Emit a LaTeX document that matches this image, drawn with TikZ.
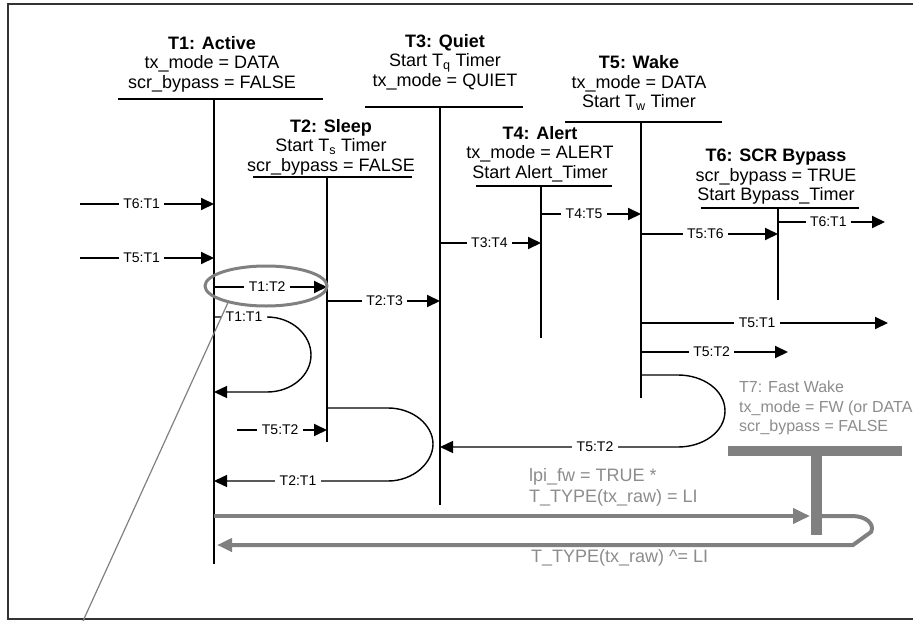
\documentclass[tikz,border=0pt]{standalone}
\usepackage{fontspec}
\setmainfont{Liberation Sans}
\usetikzlibrary{arrows.meta,shapes.geometric}
\definecolor{gmid}{gray}{0.5}
\definecolor{gtext}{gray}{0.55}
\begin{document}
\begin{tikzpicture}[x=1pt,y=-1pt,
  ttl/.style={align=center,inner sep=0pt,font=\fontsize{18}{19.5}\selectfont},
  bar/.style={line width=2pt},
  vline/.style={line width=1.5pt},
  arr/.style={line width=1.9pt,-{Triangle[length=13pt,width=12pt]}},
  loopl/.style={line width=1.4pt,-{Triangle[length=13pt,width=12pt]}},
  lbl/.style={fill=white,inner xsep=4.5pt,inner ysep=1.5pt,font=\fontsize{14}{16}\selectfont},
  frame/.style={line width=1.8pt,draw=black!80},
  gtxt/.style={text=gtext,align=left,inner sep=0pt},
  garr/.style={draw=gmid,line width=4pt},
]
\useasboundingbox (0,0) rectangle (913,621);
% frame
\draw[frame] (913,4) -- (8,4) -- (8,619) -- (913,619);

% T1
\node[ttl] (n1) at (212,64) {\textbf{T1: Active}\\tx\_mode = DATA\\scr\_bypass = FALSE};
\coordinate (b1l) at (118,99); \coordinate (b1r) at (323,99);
\coordinate (v1t) at (214,99); \coordinate (v1b) at (214,564);
\draw[bar] (b1l) -- (b1r); \draw[vline] (v1t) -- (v1b);
% T2
\node[ttl] (n2) at (331,147) {\textbf{T2: Sleep}\\Start T\textsubscript{s} Timer\\scr\_bypass = FALSE};
\coordinate (b2l) at (253,177); \coordinate (b2r) at (412,177);
\coordinate (v2t) at (327,177); \coordinate (v2b) at (327,442);
\draw[bar] (b2l) -- (b2r); \draw[vline] (v2t) -- (v2b);
% T3
\node[ttl] (n3) at (445,62) {\textbf{T3: Quiet}\\Start T\textsubscript{q} Timer\\tx\_mode = QUIET};
\coordinate (b3l) at (365,107); \coordinate (b3r) at (523,107);
\coordinate (v3t) at (440,107); \coordinate (v3b) at (440,505);
\draw[bar] (b3l) -- (b3r); \draw[vline] (v3t) -- (v3b);
% T4
\node[ttl] (n4) at (540,154) {\textbf{T4: Alert}\\tx\_mode = ALERT\\Start Alert\_Timer};
\coordinate (b4l) at (476,186); \coordinate (b4r) at (612,186);
\coordinate (v4t) at (541,186); \coordinate (v4b) at (541,338);
\draw[bar] (b4l) -- (b4r); \draw[vline] (v4t) -- (v4b);
% T5
\node[ttl] (n5) at (639,83) {\textbf{T5: Wake}\\tx\_mode = DATA\\Start T\textsubscript{w} Timer};
\coordinate (b5l) at (565,122); \coordinate (b5r) at (722,122);
\coordinate (v5t) at (641,122); \coordinate (v5b) at (641,398);
\draw[bar] (b5l) -- (b5r); \draw[vline] (v5t) -- (v5b);
% T6
\node[ttl] (n6) at (776,177) {\textbf{T6: SCR Bypass}\\scr\_bypass = TRUE\\Start Bypass\_Timer};
\coordinate (b6l) at (701,208); \coordinate (b6r) at (859,208);
\coordinate (v6t) at (778,208); \coordinate (v6b) at (778,300);
\draw[bar] (b6l) -- (b6r); \draw[vline] (v6t) -- (v6b);

% straight transitions
\coordinate (s61) at (80,204);  \draw[arr] (s61) -- (v1t |- s61) node[lbl,pos=.46] {T6:T1};
\coordinate (s51) at (80,258);  \draw[arr] (s51) -- (v1t |- s51) node[lbl,pos=.46] {T5:T1};
\coordinate (s12) at (214,287); \draw[arr] (s12) -- (v2t |- s12) node[lbl,pos=.47] {T1:T2};
\coordinate (s23) at (327,301); \draw[arr] (s23) -- (v3t |- s23) node[lbl,pos=.51] {T2:T3};
\coordinate (s34) at (440,243); \draw[arr] (s34) -- (v4t |- s34) node[lbl,pos=.49] {T3:T4};
\coordinate (s45) at (541,214); \draw[arr] (s45) -- (v5t |- s45) node[lbl,pos=.43] {T4:T5};
\coordinate (s56) at (641,234); \draw[arr] (s56) -- (v6t |- s56) node[lbl,pos=.47] {T5:T6};
\coordinate (s61r) at (778,222); \coordinate (e61r) at (885,222);
\draw[arr] (s61r) -- (e61r) node[lbl,pos=.47] {T6:T1};
\coordinate (s51r) at (641,323); \coordinate (e51r) at (888,323);
\draw[arr] (s51r) -- (e51r) node[lbl,pos=.47] {T5:T1};
\coordinate (s52r) at (641,352); \coordinate (e52r) at (788,352);
\draw[arr] (s52r) -- (e52r) node[lbl,pos=.48] {T5:T2};
\coordinate (s52l) at (237,430); \draw[arr] (s52l) -- (v2t |- s52l) node[lbl,pos=.48] {T5:T2};

% loops
\coordinate (l11) at (214,317);
\draw[loopl] (l11) -- (267,317) .. controls (292,317) and (311,335) .. (311,355)
  .. controls (311,375) and (292,392) .. (267,392) -- (v1t |- 0,392);
\node[lbl] (t11) at (244,317) {T1:T1};

\coordinate (l21) at (327,408);
\draw[loopl] (l21) -- (388,408) .. controls (413,408) and (433,425) .. (433,444)
  .. controls (433,463) and (413,481) .. (388,481) -- (v1t |- 0,481);
\node[lbl] (t21) at (298,481) {T2:T1};

\coordinate (l52) at (641,375);
\draw[loopl] (l52) -- (678,375) .. controls (703,375) and (725,390) .. (725,411)
  .. controls (725,432) and (703,447) .. (678,447) -- (v3t |- 0,447);
\node[lbl] (t52) at (595,447) {T5:T2};

% highlight ellipse and pointer
\node[ellipse,draw=gmid,line width=3pt,minimum width=122pt,minimum height=40pt,inner sep=0pt] (hl) at (266,286) {};
\coordinate (ptr) at (83,621);
\draw[draw=gmid,line width=1.2pt] (hl.204) -- (ptr);

% T7 fast wake (gray)
\node[gtxt,anchor=west,font=\fontsize{16}{19.5}\selectfont] (n7) at (739,408) {T7: Fast Wake\\tx\_mode = FW (or DATA\\scr\_bypass = FALSE};
\coordinate (g7l) at (728,451); \coordinate (g7r) at (902,451);
\coordinate (g7t) at (816,451); \coordinate (g7b) at (816,535);
\draw[draw=gmid,line width=10pt] (g7l) -- (g7r);
\draw[draw=gmid,line width=11pt] (g7t) -- (g7b);

\node[gtxt,anchor=west,font=\fontsize{18}{21}\selectfont] (c1) at (529,487.5) {lpi\_fw = TRUE *\\T\_TYPE(tx\_raw) = LI};
\node[gtxt,anchor=west,font=\fontsize{18}{21}\selectfont] (c2) at (531,558) {T\_TYPE(tx\_raw) \textasciicircum= LI};

\coordinate (ga) at (214,516); \coordinate (gb) at (810,516);
\draw[garr,-{Triangle[length=17pt,width=15pt]}] (ga) -- (gb);
\coordinate (gc) at (822,516); \coordinate (gd) at (217,545);
\draw[garr,-{Triangle[length=15pt,width=13pt]}] (gc) -- (852,516) .. controls (866,516) and (875,524) .. (871,532) -- (853,545) -- (gd);
\end{tikzpicture}
\end{document}
